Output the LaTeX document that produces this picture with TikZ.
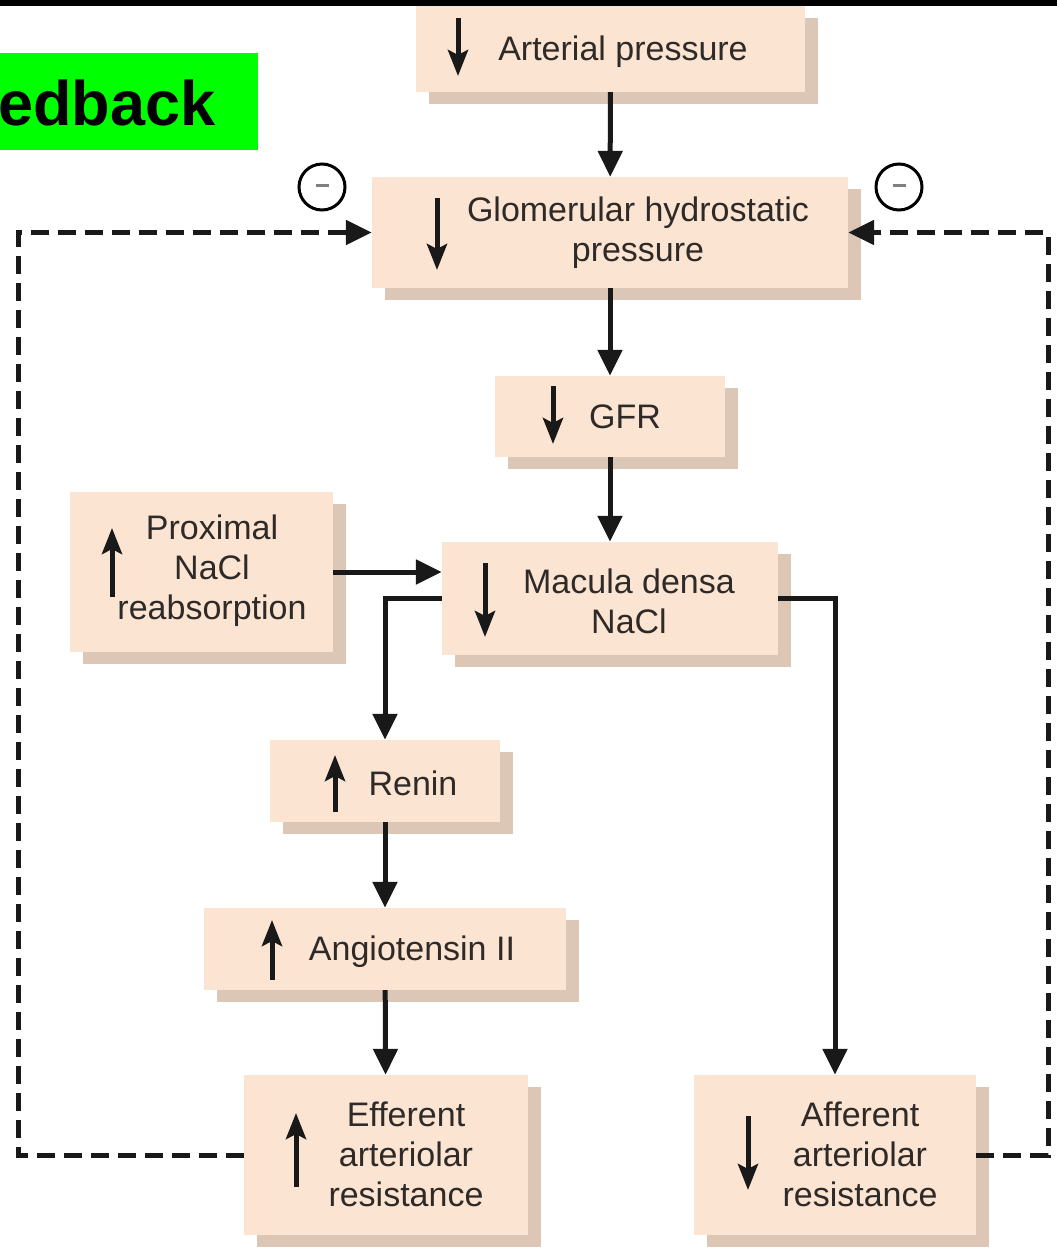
\documentclass[tikz,border=0pt]{standalone}
\usepackage{fontspec}
\setmainfont{Liberation Sans}
\usetikzlibrary{arrows.meta,shadows}
\definecolor{boxc}{HTML}{FCE4D2}
\definecolor{shadc}{HTML}{DCC7B7}
\definecolor{txtc}{HTML}{2E2A28}
\begin{document}
\begin{tikzpicture}[x=1pt,y=-1pt,
  box/.style={rectangle, fill=boxc, draw=none, inner sep=0pt,
    drop shadow={shadow xshift=13pt, shadow yshift=-12pt, fill=shadc, opacity=1}},
  lbl/.style={text=txtc, align=center, inner sep=0pt, font=\fontsize{34}{40}\selectfont},
  conn/.style={line width=5pt, color=black!90, -{Triangle[length=26pt,width=24pt]}},
  dconn/.style={line width=5pt, color=black!90, dash pattern=on 18pt off 9pt, -{Triangle[length=26pt,width=24pt]}},
  inarrow/.style={line width=5pt, color=black!90, -{Stealth[length=26pt,width=20pt,inset=5pt]}},
  minus/.style={circle, draw, line width=3pt, minimum size=46pt, inner sep=0pt}]
\useasboundingbox (0,0) rectangle (1057,1251);
% green label
\node[fill=green, minimum width=258pt, minimum height=97pt, anchor=north west, inner sep=0pt] (gl) at (0,53) {};
\node[anchor=base west, inner sep=0pt, font=\fontsize{63}{63}\selectfont\bfseries] (glt) at (-2,125) {edback};
% boxes
\node[box, minimum width=389pt, minimum height=86pt] (ap) at (610.5,49) {};
\node[box, minimum width=476pt, minimum height=111pt] (gh) at (610,232.5) {};
\node[box, minimum width=230pt, minimum height=81pt] (gfr) at (610,416.5) {};
\node[box, minimum width=263pt, minimum height=160pt] (px) at (201.5,572) {};
\node[box, minimum width=336pt, minimum height=113pt] (md) at (610,598.5) {};
\node[box, minimum width=230pt, minimum height=82pt] (rn) at (385,781) {};
\node[box, minimum width=362pt, minimum height=82pt] (ag) at (385,949) {};
\node[box, minimum width=284pt, minimum height=160pt] (ef) at (386,1155) {};
\node[box, minimum width=282pt, minimum height=160pt] (af) at (835,1155) {};
% black top bar
\fill[black] (0,0) rectangle (1057,6);
% labels
\node[lbl] (apt) at (623,52) {Arterial pressure};
\node[lbl] (ght) at (638,233) {Glomerular hydrostatic\\pressure};
\node[lbl] (gfrt) at (625,417) {GFR};
\node[lbl] (pxt) at (212,571) {Proximal\\NaCl\\reabsorption};
\node[lbl] (mdt) at (629,601) {Macula densa\\NaCl};
\node[lbl] (rnt) at (413,783) {Renin};
\node[lbl] (agt) at (412,952) {Angiotensin II};
\node[lbl] (eft) at (406,1154) {Efferent\\arteriolar\\resistance};
\node[lbl] (aft) at (860,1154) {Afferent\\arteriolar\\resistance};
% inner arrows
\draw[inarrow] (458,18) -- (458,76);
\draw[inarrow] (437,198) -- (437,270);
\draw[inarrow] (553,386) -- (553,444);
\draw[inarrow] (112,597) -- (112,528);
\draw[inarrow] (485,563) -- (485,637);
\draw[inarrow] (335,812) -- (335,755);
\draw[inarrow] (272,980) -- (272,920);
\draw[inarrow] (296,1187) -- (296,1113);
\draw[inarrow] (748,1116) -- (748,1190);
% connectors
\draw[conn] (ap) -- (gh);
\draw[conn] (gh) -- (gfr);
\draw[conn] (gfr) -- (md);
\draw[conn] (px.east) -- (px.east -| md.west);
\draw[conn] (md.west) -| (rn.north);
\draw[conn] (md.east) -| (af.north);
\draw[conn] (rn) -- (ag);
\draw[conn] (ag) -- (ef);
% dashed feedback
\coordinate (dl) at (18,1155);
\coordinate (dr) at (1048,1155);
\draw[dconn] (ef.west) -- (dl) |- (gh.west);
\draw[dconn] (af.east) -- (dr) |- (gh.east);
% minus circles
\node[minus] (m1) at (322,187) {\textcolor{gray}{\rule[0.4ex]{13pt}{3pt}}};
\node[minus] (m2) at (899,187) {\textcolor{gray}{\rule[0.4ex]{13pt}{3pt}}};
\end{tikzpicture}
\end{document}
